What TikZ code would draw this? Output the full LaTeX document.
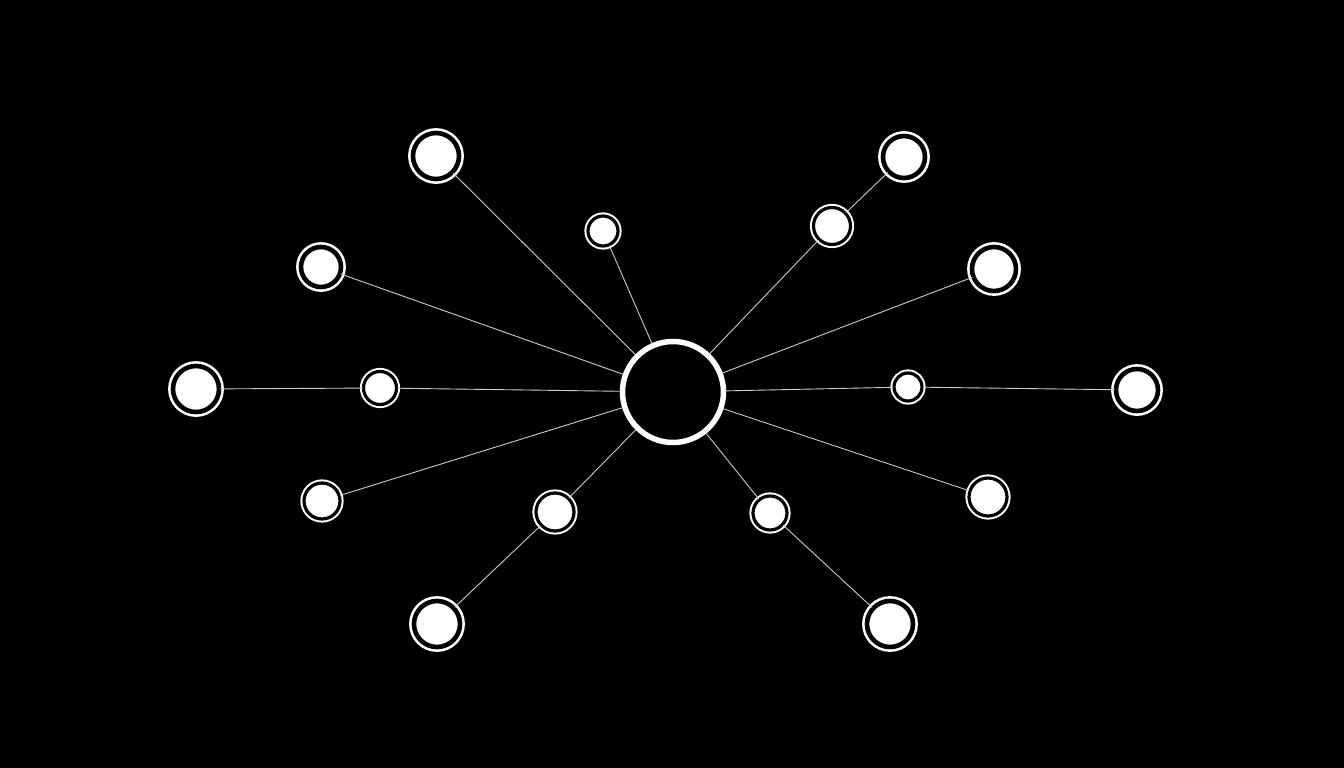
\documentclass[tikz,border=0pt]{standalone}
\usepackage{tikz}
\usetikzlibrary{positioning}

\begin{document}
\begin{tikzpicture}
[x=1pt,y=-1pt,
leaf/.style={circle,fill=white,draw=white,double=black,line width=2.6pt,double distance=4.6pt,minimum size=#1,inner sep=0pt},
thinleaf/.style={line width=2pt,double distance=3.2pt},
hub/.style={circle,fill=black,draw=white,line width=5.5pt,minimum size=101pt,inner sep=0pt},
spoke/.style={draw=white!80!black,line width=0.9pt}]
\fill[black] (0,0) rectangle (1344,768);
\useasboundingbox (0,0) rectangle (1344,768);
\node[hub] (hub) at (673,392) {};
% outer ring
\node[leaf=46pt] (tl) at (436,156) {};
\node[leaf=42pt] (tr) at (904,157) {};
\node[leaf=46pt] (l) at (196,389) {};
\node[leaf=42pt] (r) at (1137,390) {};
\node[leaf=46pt] (bl) at (437,624) {};
\node[leaf=46pt] (br) at (890,624) {};
\node[leaf=44pt] (er) at (994,269) {};
\node[leaf=40pt] (el) at (321,267) {};
\node[leaf=36pt,thinleaf] (wl) at (322,501) {};
\node[leaf=38pt,thinleaf] (wr) at (988,497) {};
% inner ring
\node[leaf=38pt,thinleaf] (ibl) at (555,512) {};
\node[leaf=34pt,thinleaf] (ibr) at (770,513) {};
\node[leaf=37pt,thinleaf] (itr) at (832,226) {};
\node[leaf=30pt,thinleaf] (it) at (603,231) {};
\node[leaf=33pt,thinleaf] (il) at (380,388) {};
\node[leaf=28pt,thinleaf] (ir) at (908,387) {};
% spokes
\foreach \a/\b in {bl/ibl,ibl/hub,br/ibr,ibr/hub,tr/itr,itr/hub,l/il,il/hub,r/ir,ir/hub,
  tl/hub,it/hub,el/hub,er/hub,wl/hub,wr/hub}
  \draw[spoke] (\a) -- (\b);
\end{tikzpicture}
\end{document}
